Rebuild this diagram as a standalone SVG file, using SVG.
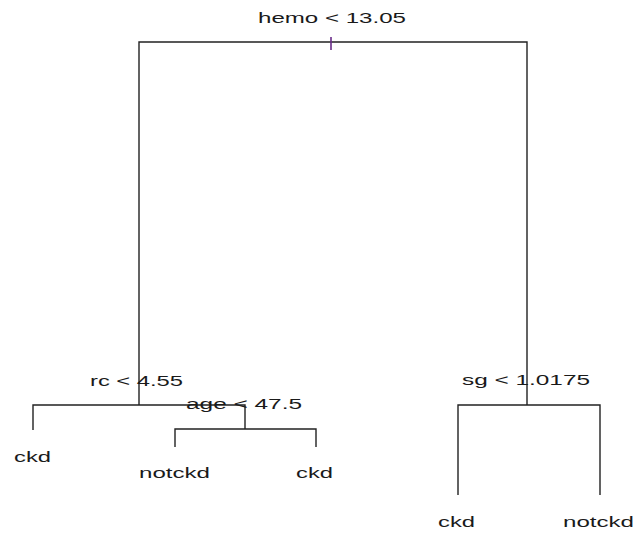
<svg xmlns="http://www.w3.org/2000/svg" width="635" height="533" viewBox="0 0 635 533">
<style>
.e{fill:none;stroke:#222;stroke-width:1.4}
text{font-family:"Liberation Sans",Arial,sans-serif;font-size:15.5px;fill:#1a1a1a}
</style>
<rect width="635" height="533" fill="#fff"/>
<g id="connectors">
<path class="e" d="M139,405V42H527V405"/>
<path class="e" d="M33,430V405H245V429"/>
<path class="e" d="M175,447V429H316V447"/>
<path class="e" d="M458,495V405H600V495"/>
<line x1="331" y1="37" x2="331" y2="50" stroke="#6a2c8a" stroke-width="1.6"/>
</g>
<g id="n_hemo"><text x="258" y="23" textLength="148" lengthAdjust="spacingAndGlyphs">hemo &lt; 13.05</text></g>
<g id="n_rc"><text x="90" y="386" textLength="93" lengthAdjust="spacingAndGlyphs">rc &lt; 4.55</text></g>
<g id="n_age"><text x="186" y="409" textLength="116" lengthAdjust="spacingAndGlyphs">age &lt; 47.5</text></g>
<g id="n_sg"><text x="462" y="385" textLength="128" lengthAdjust="spacingAndGlyphs">sg &lt; 1.0175</text></g>
<g id="leaf1"><text x="14" y="462" textLength="37" lengthAdjust="spacingAndGlyphs">ckd</text></g>
<g id="leaf2"><text x="139" y="478" textLength="71" lengthAdjust="spacingAndGlyphs">notckd</text></g>
<g id="leaf3"><text x="296" y="478" textLength="37" lengthAdjust="spacingAndGlyphs">ckd</text></g>
<g id="leaf4"><text x="438" y="527" textLength="37" lengthAdjust="spacingAndGlyphs">ckd</text></g>
<g id="leaf5"><text x="563" y="527" textLength="71" lengthAdjust="spacingAndGlyphs">notckd</text></g>
</svg>
